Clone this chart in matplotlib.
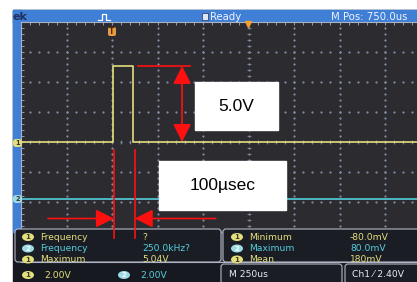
import matplotlib.pyplot as plt
from matplotlib.patches import Rectangle, FancyBboxPatch, Ellipse
import numpy as np

# scope settings
time_div = 250      # us / div
volt_div = 2.0      # V / div
t_left = -500       # time at left edge of graticule (us)
ch2_offset = -3.8   # displayed offset of channel 2 (V)

# channel 1: single pulse (us, V)
ch1_t = [-500, 5, 5, 115, 115, 2000]
ch1_v = [0.0, 0.0, 5.04, 5.04, 0.0, 0.0]

# channel 2: flat line (us, V)
ch2_t = [-500, 2000]
ch2_v = [0.0, 0.0]

# hand-drawn width markers (us)
mark_t = [10, 125]

# measurement panel
meas_left = [("1", "Frequency", "?"), ("2", "Frequency", "250.0kHz?"), ("1", "Maximum", "5.04V")]
meas_right = [("1", "Minimum", "-80.0mV"), ("2", "Maximum", "80.0mV"), ("1", "Mean", "180mV")]
scale_labels = ["2.00V", "2.00V"]

yellow = "#e4df7c"
cyan = "#54cfdc"
blue = "#3f7fd6"
grid_c = "#7f8aa0"

W, H = 417, 282
fig = plt.figure(figsize=(W / 100, H / 100), dpi=100)
fig.patch.set_facecolor("white")

# ---- frame (pixel coordinates)
under = fig.add_axes([0, 0, 1, 1], zorder=0)
under.set_xlim(0, W)
under.set_ylim(H, 0)
under.axis("off")
under.add_patch(Rectangle((13, 10), W - 13, H - 10, color="#171920"))
under.add_patch(Rectangle((13, 10), W - 13, 12, color=blue))
under.add_patch(Rectangle((13, 10), 8, 222, color=blue))
under.text(13, 16.5, "ek", color="#203060", fontsize=8, fontweight="bold", va="center")
under.plot([98, 102, 102, 106, 106, 110], [20, 20, 14, 14, 20, 20], color="white", lw=0.9)
under.add_patch(Rectangle((202, 12.5), 6, 7, facecolor="#dde6f5", edgecolor="#203060", lw=0.5))
under.text(210, 16.5, "Ready", color="#f0f4ff", fontsize=7.3, va="center")
under.text(331, 16.5, "M Pos: 750.0us", color="#f0f4ff", fontsize=7.3, va="center")

# ---- graticule: 10 x 8 divisions, 45.5 x 30 px each
x0, y0 = 21, 22
ax = fig.add_axes([x0 / W, 1 - (y0 + 240) / H, 455 / W, 240 / H], zorder=1)
ax.set_facecolor("#2b2b30")
t_right = t_left + 10 * time_div
ax.set_xlim(t_left, t_right)
ax.set_ylim(-4 * volt_div, 4 * volt_div)
for s in ax.spines.values():
    s.set_color("#aab2c4")
    s.set_linewidth(0.8)
ax.set_xticks(np.arange(t_left, t_right + 1, time_div / 5))
ax.set_yticks(np.arange(-4 * volt_div, 4 * volt_div + 0.01, volt_div / 5))
ax.tick_params(direction="in", length=2.5, width=0.6, color="#aab2c4",
               top=True, bottom=False, left=True, right=False,
               labeltop=False, labelbottom=False, labelleft=False)

tx = np.arange(t_left, t_right + 1, time_div / 5)
vy = np.arange(-4 * volt_div, 4 * volt_div + 0.01, volt_div / 5)
for v in np.arange(-3, 4) * volt_div:
    ax.plot(tx, np.full_like(tx, v, dtype=float), ls="none", marker="s", ms=0.6, color=grid_c)
for t in np.arange(t_left + time_div, t_right, time_div):
    ax.plot(np.full_like(vy, t, dtype=float), vy, ls="none", marker="s", ms=0.6, color=grid_c)
# center cross ticks
tc = t_left + 5 * time_div
ax.plot(tx, np.zeros_like(tx, dtype=float), ls="none", marker="|", ms=3, mew=0.6, color=grid_c)
ax.plot(np.full_like(vy, tc, dtype=float), vy, ls="none", marker="_", ms=3, mew=0.6, color=grid_c)

ax.plot(ch2_t, np.array(ch2_v) + ch2_offset, color=cyan, lw=1.2)
ax.plot(ch1_t, ch1_v, color=yellow, lw=1.2)

# ---- status panels (pixel coordinates)
hud = fig.add_axes([0, 0, 1, 1], zorder=2)
hud.set_xlim(0, W)
hud.set_ylim(H, 0)
hud.axis("off")
hud.patch.set_alpha(0)

def badge(x, y, n):
    fc = yellow if n == "1" else "#9adbe6"
    hud.add_patch(Ellipse((x, y), 12, 8, facecolor=fc, edgecolor="none"))
    hud.text(x, y + 0.3, n, color="#3a3a30" if n == "1" else "white", fontsize=5,
             ha="center", va="center", fontweight="bold")

box = dict(boxstyle="round,pad=0,rounding_size=3", facecolor="#1b1d25", edgecolor="#b4b8c4", lw=0.8)
hud.add_patch(FancyBboxPatch((15, 229), 206, 33, **box))
hud.add_patch(FancyBboxPatch((223, 229), 200, 33, **box))
hud.add_patch(FancyBboxPatch((221, 264), 121, 20, **box))
hud.add_patch(FancyBboxPatch((345, 264), 80, 20, **box))

rows = [237, 248.5, 259.5]
for y, (ch, name, val) in zip(rows, meas_left):
    c = yellow if ch == "1" else cyan
    badge(28, y, ch)
    hud.text(40, y, name, color=c, fontsize=6.6, va="center")
    hud.text(142, y, val, color=c, fontsize=6.6, va="center")
for y, (ch, name, val) in zip(rows, meas_right):
    c = yellow if ch == "1" else cyan
    badge(237, y, ch)
    hud.text(249, y, name, color=c, fontsize=6.6, va="center")
    hud.text(350, y, val, color=c, fontsize=6.6, va="center")

badge(28, 275, "1")
hud.text(44, 275, scale_labels[0], color=yellow, fontsize=6.6, va="center")
badge(124, 275, "2")
hud.text(140, 275, scale_labels[1], color=cyan, fontsize=6.6, va="center")
hud.text(229, 274.5, "M 250us", color="#e8ecf4", fontsize=6.6, va="center")
hud.text(352, 274.5, "Ch1 \u2044 2.40V", color="#e8ecf4", fontsize=6.6, va="center")

# channel / trigger markers
for y, n in [(143, "1"), (199, "2")]:
    hud.add_patch(FancyBboxPatch((13, y - 4), 9, 8, boxstyle="round,pad=0,rounding_size=3",
                                 facecolor=yellow if n == "1" else "#9adbe6", edgecolor="none"))
    hud.text(17.5, y + 0.3, n, color="#333", fontsize=4.8, ha="center", va="center", fontweight="bold")
hud.add_patch(FancyBboxPatch((108, 27), 8, 9, boxstyle="round,pad=0,rounding_size=2",
                             facecolor="#e89a40", edgecolor="none"))
hud.text(112, 31.5, "T", color="#4a2a10", fontsize=5.5, ha="center", va="center", fontweight="bold")
hud.plot([248], [24], marker="v", ms=5, color="#f0a030")

# ---- red annotations (data coordinates of the graticule)
ann = fig.add_axes(ax.get_position(), sharex=ax, sharey=ax, zorder=3)
ann.axis("off")
ann.patch.set_alpha(0)
red = "#ff1010"
head = dict(arrowstyle="-|>,head_length=1.1,head_width=0.55", color=red, lw=1.2,
            shrinkA=0, shrinkB=0)
t_arrow = 385
ann.plot([143, 430], [5.07, 5.07], color=red, lw=1.2)
ann.annotate("", xy=(t_arrow, 5.07), xytext=(t_arrow, 2.5), arrowprops=head)
ann.annotate("", xy=(t_arrow, 0.0), xytext=(t_arrow, 2.5), arrowprops=head)
ann.add_patch(Rectangle((456, 0.8), 456, 3.2, color="white"))
ann.text(684, 2.4, "5.0V", fontsize=12.5, family="Liberation Sans", ha="center", va="center")

for t in mark_t:
    ann.plot([t, t], [-0.5, -6.4], color=red, lw=1.2, clip_on=False)
ann.annotate("", xy=(mark_t[0], -5.1), xytext=(-352, -5.1), arrowprops=head)
ann.annotate("", xy=(mark_t[1], -5.1), xytext=(570, -5.1), arrowprops=head)
ann.add_patch(Rectangle((258, -4.53), 698, 3.26, color="white"))
ann.text(607, -2.9, "100\u00b5sec", fontsize=12.5, family="Liberation Sans", ha="center", va="center")

fig.savefig("out.png", dpi=100)
